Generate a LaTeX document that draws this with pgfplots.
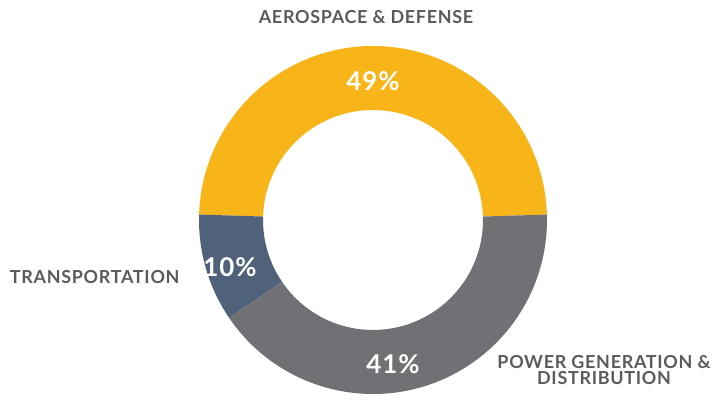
\documentclass[border=0pt]{standalone}
\usepackage{pgfplots}
\pgfplotsset{compat=1.18}
\usepackage{fontspec}
\setmainfont{Lato}
\newfontfamily\lab[LetterSpace=4]{Lato}
\definecolor{aero}{HTML}{F7B519}
\definecolor{trans}{HTML}{4F627A}
\definecolor{power}{HTML}{717074}
\definecolor{lbl}{HTML}{5B5B5E}

\begin{document}
\begin{tikzpicture}
\begin{axis}[
    hide axis, scale only axis,
    width=722bp, height=401bp,
    xmin=0, xmax=722, ymin=0, ymax=401,
    clip=false,
  ]
  \fill[white] (axis cs:0,0) rectangle (axis cs:722,401);
  % centre, outer and inner radius (in bp = axis units)
  \def\cx{373}\def\cy{181}\def\ro{174}\def\ri{110}
  \gdef\s{1.8}
  \foreach \v/\c in {49/aero,10/trans,41/power}{
    \pgfmathsetmacro\e{\s+3.6*\v}
    \edef\temp{\noexpand\fill[\c]
      (axis cs:{\cx+\ro*cos(\s)},{\cy+\ro*sin(\s)})
      arc[start angle=\s, end angle=\e, radius=\ro bp]
      -- (axis cs:{\cx+\ri*cos(\e)},{\cy+\ri*sin(\e)})
      arc[start angle=\e, end angle=\s, radius=\ri bp] -- cycle;}
    \temp
    \global\let\s\e
  }

  \node[lbl, font=\lab\fontsize{18}{17}\selectfont\bfseries] at (axis cs:366,384) {AEROSPACE \& DEFENSE};
  \node[lbl, font=\lab\fontsize{18}{17}\selectfont\bfseries, anchor=east] at (axis cs:183,124) {TRANSPORTATION};
  \node[lbl, font=\lab\fontsize{18}{17}\selectfont\bfseries, align=center] at (axis cs:604,31) {POWER GENERATION \&\\DISTRIBUTION};

  \node[white, font=\lab\fontsize{26}{28}\selectfont\bfseries] at (axis cs:373,320) {49\%};
  \node[white, font=\lab\fontsize{26}{28}\selectfont\bfseries] at (axis cs:230,134) {10\%};
  \node[white, font=\lab\fontsize{26}{28}\selectfont\bfseries] at (axis cs:393,37) {41\%};
\end{axis}
\end{tikzpicture}
\end{document}
